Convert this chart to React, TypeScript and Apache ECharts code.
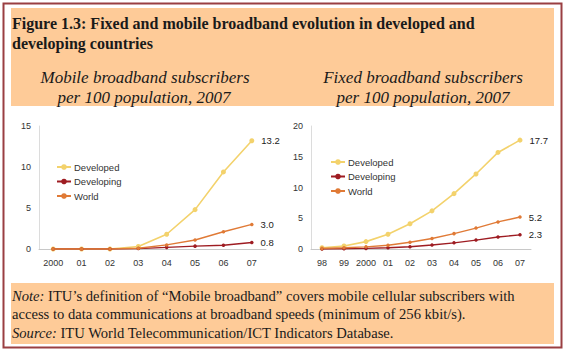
import React, { useEffect, useRef } from "react";
import * as echarts from "echarts";

const mobileYears = ["2000", "01", "02", "03", "04", "05", "06", "07"];
const mobileDeveloped = [0, 0, 0, 0.3, 1.8, 4.8, 9.4, 13.2];
const mobileDeveloping = [0, 0, 0, 0.05, 0.2, 0.35, 0.45, 0.8];
const mobileWorld = [0, 0, 0, 0.1, 0.5, 1.1, 2.1, 3.0];

const fixedYears = ["98", "99", "2000", "01", "02", "03", "04", "05", "06", "07"];
const fixedDeveloped = [0.2, 0.5, 1.2, 2.4, 4.1, 6.2, 9.0, 12.2, 15.7, 17.7];
const fixedDeveloping = [0.0, 0.05, 0.1, 0.2, 0.37, 0.65, 1.0, 1.45, 1.95, 2.3];
const fixedWorld = [0.1, 0.2, 0.35, 0.6, 1.1, 1.7, 2.5, 3.4, 4.4, 5.2];

const seriesNames = ["Developed", "Developing", "World"];
const colors = ["#f3d26c", "#9e1c22", "#e07a36"];

const titleLines = [
  "Figure 1.3: Fixed and mobile broadband evolution in developed and",
  "developing countries",
];
const leftSub = ["Mobile broadband subscribers", "per 100 population, 2007"];
const rightSub = ["Fixed broadband subscribers", "per 100 population, 2007"];

function lastLabel(values: number[]) {
  return values.map((v, i) =>
    i === values.length - 1
      ? {
          value: v,
          label: {
            show: true,
            position: "right",
            distance: 7,
            formatter: v.toFixed(1),
            fontSize: 9.5,
            fontFamily: "Liberation Sans, Arial, sans-serif",
            color: "#222",
          },
        }
      : v
  );
}

export default function App() {
  const ref = useRef<HTMLDivElement>(null);
  useEffect(() => {
    if (!ref.current) return;
    const chart = echarts.init(ref.current, undefined, { renderer: "svg" });
    const axisFont = {
      fontSize: 9,
      fontFamily: "Liberation Sans, Arial, sans-serif",
      color: "#333",
    };
    const makeX = (gi: number, data: string[]) => ({
      type: "category",
      gridIndex: gi,
      data,
      boundaryGap: true,
      axisLine: { show: true, lineStyle: { color: "#c8c8c8" } },
      axisTick: { show: false },
      axisLabel: { ...axisFont, margin: 9, interval: 0 },
    });
    const makeY = (gi: number, max: number) => ({
      type: "value",
      gridIndex: gi,
      min: 0,
      max,
      interval: 5,
      axisLine: { show: true, lineStyle: { color: "#dcdcdc" } },
      axisTick: { show: false },
      splitLine: { show: false },
      axisLabel: { ...axisFont, margin: 8 },
    });
    const makeSeries = (gi: number, vals: number[][]) =>
      vals.map((v, k) => ({
        type: "line",
        name: seriesNames[k],
        xAxisIndex: gi,
        yAxisIndex: gi,
        data: lastLabel(v),
        symbol: "circle",
        symbolSize: k === 0 ? 5 : 3.5,
        lineStyle: { color: colors[k], width: k === 0 ? 1.6 : 1.4 },
        itemStyle: { color: colors[k] },
        z: k === 0 ? 2 : 3,
      }));
    const legendBase = {
      orient: "vertical",
      data: seriesNames,
      itemWidth: 14,
      itemHeight: 7,
      itemGap: 4.5,
      textStyle: { fontSize: 9.5, fontFamily: "Liberation Sans, Arial, sans-serif", color: "#333", padding: [0, 0, 0, -2] },
      padding: 0,
    };
    const serif = "'Liberation Serif', 'Times New Roman', serif";
    const headerText = (text: string, x: number, y: number, font: string, align = "left") => ({
      type: "text",
      x,
      y,
      style: { text, font, fill: "#1a1a1a", align, verticalAlign: "middle" },
    });
    const footFont = "14.6px " + serif;
    const rich = { i: { fontStyle: "italic", fontSize: 14.6, fontFamily: "Liberation Serif" } };
    chart.setOption({
      animation: false,
      backgroundColor: "#ffffff",
      color: colors,
      grid: [
        { left: 39, top: 126, width: 227, height: 123 },
        { left: 311, top: 126, width: 220, height: 123 },
      ],
      xAxis: [makeX(0, mobileYears), makeX(1, fixedYears)],
      yAxis: [makeY(0, 15), makeY(1, 20)],
      legend: [
        { ...legendBase, left: 56, top: 162 },
        { ...legendBase, left: 330, top: 157 },
      ],
      series: [
        ...makeSeries(0, [mobileDeveloped, mobileDeveloping, mobileWorld]),
        ...makeSeries(1, [fixedDeveloped, fixedDeveloping, fixedWorld]),
      ],
      graphic: [
        {
          type: "rect",
          shape: { x: 11, y: 8, width: 543, height: 98 },
          style: { fill: "#fecb98" },
          z: -10,
        },
        {
          type: "rect",
          shape: { x: 11, y: 283, width: 543, height: 61 },
          style: { fill: "#fecb98" },
          z: -10,
        },
        {
          type: "rect",
          shape: { x: 3.5, y: 3.5, width: 558, height: 344 },
          style: { fill: "none", stroke: "#9a3f42", lineWidth: 2 },
          z: -5,
        },
        headerText(titleLines[0], 12, 23, "bold 16px " + serif),
        headerText(titleLines[1], 12, 43, "bold 16px " + serif),
        headerText(leftSub[0], 145, 77, "italic 17px " + serif, "center"),
        headerText(leftSub[1], 144, 97, "italic 17px " + serif, "center"),
        headerText(rightSub[0], 423, 77, "italic 17px " + serif, "center"),
        headerText(rightSub[1], 423, 97, "italic 17px " + serif, "center"),
        {
          type: "text",
          x: 12,
          y: 296,
          style: {
            text: "{i|Note:} ITU\u2019s definition of \u201cMobile broadband\u201d covers mobile cellular subscribers with",
            font: footFont,
            fill: "#1a1a1a",
            verticalAlign: "middle",
            rich,
          },
        },
        {
          type: "text",
          x: 12,
          y: 314,
          style: {
            text: "access to data communications at broadband speeds (minimum of 256 kbit/s).",
            font: footFont,
            fill: "#1a1a1a",
            verticalAlign: "middle",
          },
        },
        {
          type: "text",
          x: 12,
          y: 333,
          style: {
            text: "{i|Source:} ITU World Telecommunication/ICT Indicators Database.",
            font: footFont,
            fill: "#1a1a1a",
            verticalAlign: "middle",
            rich,
          },
        },
      ],
    });
    return () => chart.dispose();
  }, []);
  return (
    <div
      ref={ref}
      style={{ position: "fixed", left: 0, top: 0, width: 566, height: 351 }}
    />
  );
}
